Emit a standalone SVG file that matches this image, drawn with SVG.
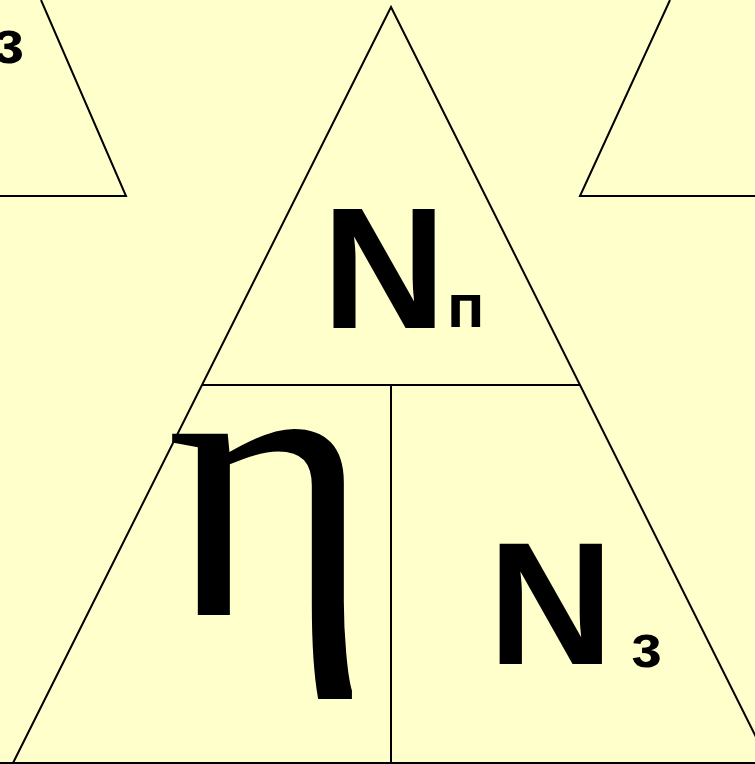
<svg xmlns="http://www.w3.org/2000/svg" width="755" height="764" viewBox="0 0 755 764">
<style>
.ln{stroke:#000;stroke-width:2;fill:none}
.b{font-family:"Liberation Sans",Arial,sans-serif;font-weight:bold;fill:#000}
.s{font-family:"Liberation Serif","Times New Roman",serif;fill:#000}
</style>
<rect width="755" height="764" fill="#FFFFCC"/>
<g id="connectors">
<polyline class="ln" points="41,0 126,196 0,196"/>
<polyline class="ln" points="670,0 580,196 755,196"/>
<polyline class="ln" points="13,763 391,7 769,763"/>
<line class="ln" x1="0" y1="763" x2="755" y2="763"/>
<line class="ln" x1="202" y1="385" x2="580" y2="385"/>
<line class="ln" x1="391" y1="385" x2="391" y2="764"/>
</g>
<g id="node-top-left"><text class="b" x="24" y="63" font-size="62" text-anchor="end">з</text></g>
<g id="node-Np"><text class="b" x="322" y="328" font-size="172">N</text><text class="b" x="447" y="327" font-size="62">п</text></g>
<g id="node-eta"><text class="s" x="166" y="615" font-size="395">η</text></g>
<g id="node-Nz"><text class="b" x="488" y="664" font-size="174">N</text><text class="b" x="631" y="667" font-size="62">з</text></g>
</svg>
